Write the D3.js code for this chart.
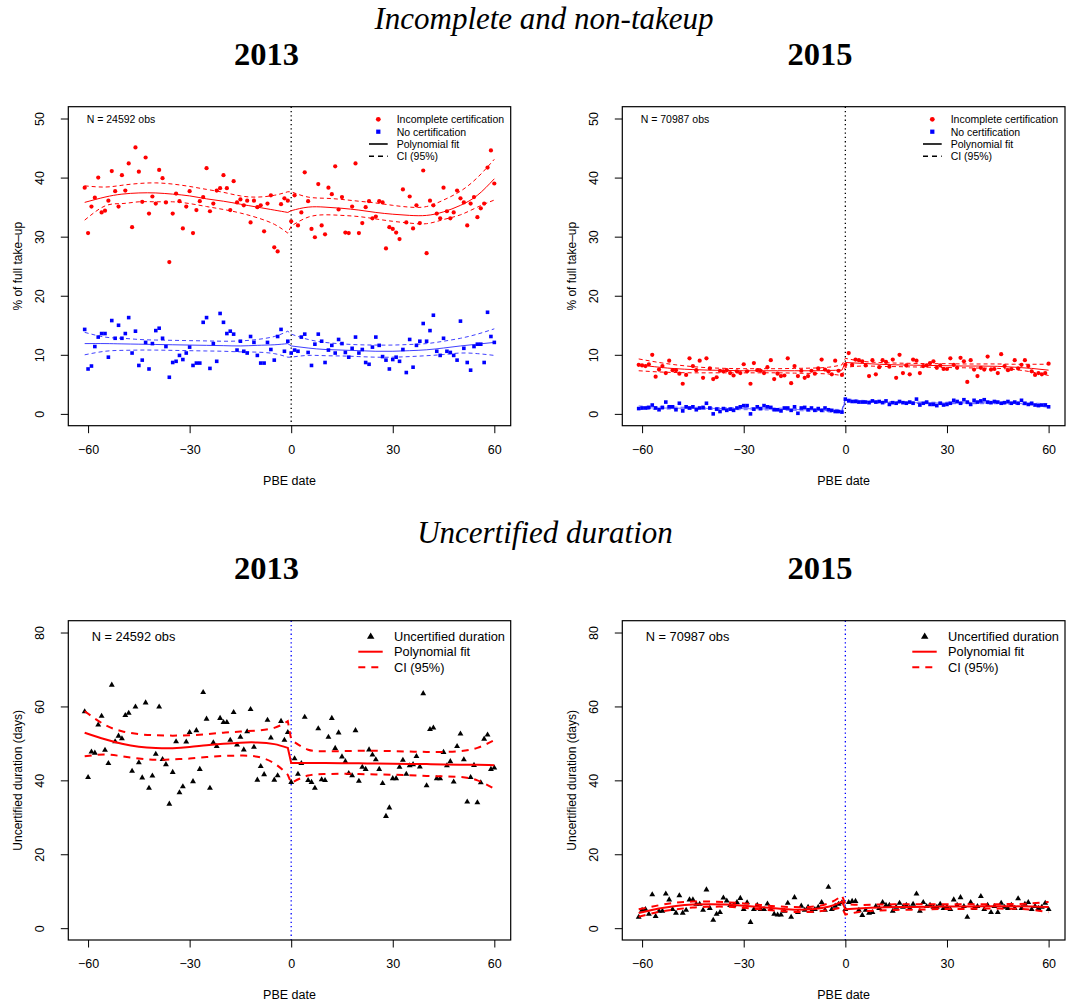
<!DOCTYPE html>
<html>
<head>
<meta charset="utf-8">
<script src="https://cdn.jsdelivr.net/npm/d3@7"></script>
<style>
  body { margin: 0; background: #fff; }
  svg { display: block; }
</style>
</head>
<body>
<svg id="fig" width="1067" height="1005"></svg>
<script>
// Daily bins around the PBE date (days -61 … 60)
const binDays = d3.range(-61, 61);

// Share of full take-up (%), 2013 cohort
const incomplete2013 = [
  38.3, 30.6, 35.1, 36.6, 40.0, 34.1, 34.4, 36.1, 41.1, 37.7,
  35.1, 40.4, 37.8, 42.4, 31.6, 45.1, 41.0, 35.9, 43.4, 33.9,
  36.8, 35.6, 41.3, 39.9, 35.8, 25.7, 33.9, 37.3, 36.0, 31.4,
  35.1, 37.7, 30.6, 34.5, 36.0, 36.7, 41.6, 34.3, 35.6, 37.8,
  38.2, 40.4, 38.2, 34.5, 39.4, 35.8, 36.3, 35.3, 36.1, 32.4,
  36.1, 35.0, 35.3, 30.9, 35.6, 37.0, 28.2, 27.5, 35.5, 36.5,
  36.1,
  32.6, 37.0, 31.9, 34.1, 40.9, 36.0, 31.3, 29.9, 38.9, 31.9,
  30.4, 38.3, 37.2, 41.9, 34.6, 36.7, 30.7, 30.6, 35.1, 42.4,
  30.6, 32.3, 35.0, 36.0, 33.1, 33.4, 36.0, 35.8, 28.0, 31.6,
  31.3, 30.7, 29.6, 38.0, 32.4, 36.8, 31.4, 35.3, 32.3, 41.2,
  27.2, 36.1, 35.3, 33.9, 33.1, 38.3, 34.3, 33.1, 34.1, 37.8,
  36.5, 35.8, 31.9, 35.6, 36.7, 33.3, 34.8, 35.6, 41.7, 44.6,
  39.0
];
const noCert2013 = [
  14.3, 7.6, 8.1, 11.4, 13.0, 13.6, 13.6, 9.6, 15.8, 12.8,
  15.0, 12.8, 13.6, 16.3, 10.3, 14.0, 8.2, 9.1, 12.1, 7.6,
  11.9, 14.1, 14.5, 12.8, 11.4, 6.2, 8.7, 8.9, 9.9, 9.2,
  10.3, 11.3, 8.2, 8.6, 8.6, 15.5, 16.3, 7.7, 11.9, 8.9,
  17.0, 15.5, 13.6, 14.0, 13.5, 10.8, 12.3, 10.6, 10.3, 13.1,
  12.1, 9.9, 8.6, 8.6, 12.1, 10.9, 9.1, 13.1, 14.3, 10.6,
  12.3,
  10.3, 10.8, 10.6, 13.0, 13.5, 10.4, 8.2, 11.8, 13.5, 12.3,
  8.7, 10.8, 11.6, 10.3, 12.6, 11.9, 10.4, 9.6, 11.1, 13.0,
  10.3, 10.9, 8.7, 8.4, 11.3, 13.0, 11.6, 9.7, 9.1, 7.6,
  9.2, 9.6, 8.9, 10.9, 7.0, 12.6, 7.9, 11.6, 12.3, 15.3,
  12.3, 14.1, 16.7, 10.6, 9.9, 12.8, 10.6, 10.4, 9.9, 9.1,
  15.7, 11.1, 8.7, 7.4, 11.4, 11.8, 11.8, 8.7, 17.2, 13.1,
  12.1
];

// Share of full take-up (%), 2015 cohort
const incomplete2015 = [
  8.3, 8.2, 8.1, 8.4, 10.0, 6.3, 7.5, 8.1, 6.9, 9.0,
  7.4, 7.4, 6.8, 5.1, 6.6, 9.4, 8.1, 7.4, 9.0, 6.1,
  9.4, 7.7, 5.9, 6.2, 7.3, 7.2, 7.4, 6.9, 6.5, 7.2,
  6.9, 8.4, 7.2, 5.1, 8.6, 7.4, 7.3, 6.9, 7.9, 9.1,
  5.9, 6.8, 6.4, 6.5, 9.4, 5.2, 8.1, 6.4, 7.3, 6.1,
  6.4, 7.3, 6.8, 7.7, 9.2, 7.5, 7.2, 6.7, 9.0, 7.3,
  6.6,
  8.3, 10.3, 8.3, 9.2, 9.1, 8.9, 8.2, 6.4, 9.1, 6.7,
  7.9, 9.1, 8.8, 8.0, 9.2, 6.1, 10.0, 6.9, 8.2, 6.7,
  9.2, 9.0, 6.9, 8.1, 8.2, 8.6, 8.9, 7.8, 8.2, 7.6,
  7.6, 9.4, 8.3, 7.8, 9.5, 8.9, 5.4, 9.1, 7.5, 6.4,
  7.8, 7.5, 9.7, 7.5, 7.6, 6.9, 10.1, 8.1, 7.4, 7.6,
  9.1, 7.7, 8.3, 9.1, 8.1, 7.2, 6.6, 6.9, 6.7, 6.9,
  8.5
];
const noCert2015 = [
  0.9, 1.0, 1.0, 1.1, 1.5, 1.0, 0.7, 1.1, 2.0, 1.2,
  1.2, 0.7, 1.8, 0.5, 1.2, 1.0, 1.2, 0.7, 1.0, 1.1,
  1.8, 1.0, 0.0, 0.8, 0.4, 0.9, 0.6, 0.8, 0.6, 1.0,
  1.2, 1.4, 1.4, 0.0, 0.8, 1.2, 0.9, 1.4, 1.2, 1.1,
  0.7, 0.7, 0.5, 1.0, 1.0, 0.6, 1.2, 0.1, 1.0, 1.1,
  0.7, 1.0, 0.6, 0.9, 0.6, 1.0, 0.7, 0.6, 0.4, 0.4,
  0.3,
  2.5, 2.2, 2.1, 2.1, 2.0, 2.0, 2.0, 1.9, 2.2, 2.0,
  2.1, 1.9, 2.2, 1.6, 1.9, 1.8, 2.1, 1.9, 1.8, 2.0,
  1.8, 2.5, 1.5, 1.8, 2.0, 1.6, 1.6, 1.4, 1.8, 1.5,
  1.6, 1.8, 2.3, 2.1, 1.8, 2.4, 2.0, 1.6, 2.3, 2.0,
  2.2, 2.4, 2.0, 1.9, 2.1, 2.0, 1.8, 1.9, 2.1, 1.8,
  2.0, 1.8, 2.3, 1.8, 1.6, 1.8, 1.5, 1.4, 1.5, 1.5,
  1.2
];

// Uncertified duration (days)
const duration2013 = [
  58.6, 40.8, 47.7, 47.4, 55.0, 57.4, 48.2, 44.6, 65.8, 50.5,
  52.0, 51.3, 57.6, 58.2, 42.5, 59.9, 44.8, 40.7, 61.0, 37.9,
  41.2, 47.1, 59.9, 45.7, 44.3, 33.6, 42.2, 50.5, 36.7, 38.3,
  50.4, 53.0, 39.7, 53.5, 43.0, 63.8, 56.6, 37.9, 50.2, 49.2,
  56.8, 55.7, 55.7, 50.9, 58.4, 49.6, 51.7, 48.3, 53.2, 59.2,
  49.0, 40.1, 43.8, 41.6, 56.3, 51.5, 40.1, 41.3, 56.0, 50.9,
  53.0,
  39.5, 45.9, 41.7, 44.6, 57.1, 40.0, 39.5, 37.9, 54.0, 40.2,
  40.0, 51.7, 56.8, 48.7, 52.9, 46.4, 45.1, 41.9, 41.3, 53.5,
  39.8, 43.6, 43.0, 48.3, 46.9, 45.6, 43.0, 39.2, 30.3, 32.6,
  40.5, 40.5, 43.6, 45.5, 41.7, 44.0, 44.3, 46.5, 43.7, 63.5,
  38.6, 53.8, 54.2, 40.5, 40.5, 47.6, 44.0, 45.1, 39.6, 49.2,
  52.6, 45.6, 34.2, 40.8, 44.1, 34.0, 39.4, 51.2, 52.3, 43.0,
  43.4
];
const duration2015 = [
  3.0, 4.9, 5.1, 3.8, 9.1, 3.2, 4.6, 4.6, 9.3, 7.7,
  5.1, 4.1, 8.8, 4.1, 4.9, 7.7, 7.7, 6.5, 6.5, 4.9,
  10.4, 5.4, 2.2, 3.8, 4.3, 8.2, 7.4, 6.2, 6.2, 7.0,
  8.1, 5.1, 6.9, 1.6, 5.1, 6.2, 5.1, 5.1, 6.6, 5.1,
  3.8, 3.6, 3.6, 4.6, 6.8, 3.0, 8.3, 4.3, 6.0, 4.9,
  5.7, 4.6, 5.1, 5.7, 7.0, 4.9, 11.1, 5.1, 6.0, 6.5,
  6.9,
  5.1, 7.0, 7.3, 7.3, 4.9, 3.5, 4.9, 4.1, 4.3, 5.9,
  5.4, 7.0, 6.2, 6.2, 4.6, 5.7, 6.8, 5.7, 6.2, 5.4,
  6.5, 9.3, 4.6, 7.0, 5.9, 6.2, 5.7, 5.7, 6.5, 5.4,
  5.7, 5.1, 7.7, 6.2, 8.3, 5.9, 3.0, 7.0, 5.4, 5.9,
  8.6, 5.1, 6.2, 4.3, 5.9, 4.3, 6.8, 5.7, 5.4, 6.2,
  5.4, 8.0, 5.4, 6.5, 7.0, 5.1, 5.9, 5.4, 5.7, 6.8,
  5.1
];

// Polynomial fits and 95% bands, evaluated on these days (left side, then right side)
const fitDays = [-61, -55, -50, -45, -40, -35, -30, -25, -20, -15, -10, -5, -1,
                 0, 5, 10, 15, 20, 25, 30, 35, 40, 45, 50, 55, 60];

const incFit2013 = [35.8, 36.7, 37.2, 37.4, 37.4, 37.2, 36.9, 36.4, 36.0, 35.5, 35.0, 34.5, 34.1,
                    34.4, 35.0, 35.0, 34.8, 34.5, 34.1, 33.8, 33.6, 33.6, 34.2, 35.3, 37.0, 39.8];
const incHi2013  = [38.6, 38.4, 38.7, 39.0, 39.1, 38.9, 38.5, 38.0, 37.5, 36.9, 36.7, 37.0, 37.6,
                    37.6, 36.7, 36.5, 36.3, 36.0, 35.7, 35.3, 35.0, 35.1, 36.2, 37.7, 40.0, 43.1];
const incLo2013  = [32.8, 35.2, 35.6, 35.9, 35.9, 35.9, 35.6, 35.1, 34.6, 34.0, 33.2, 32.1, 30.6,
                    31.8, 33.3, 33.7, 33.6, 33.4, 33.0, 32.6, 32.3, 32.2, 32.9, 33.7, 35.0, 36.2];
const nocFit2013 = [11.9, 11.9, 11.85, 11.8, 11.75, 11.7, 11.65, 11.6, 11.55, 11.5, 11.6, 11.7, 11.9,
                    11.5, 11.15, 10.9, 10.8, 10.7, 10.6, 10.6, 10.7, 10.85, 11.15, 11.5, 11.8, 12.1];
const nocHi2013  = [13.8, 13.0, 12.8, 12.6, 12.5, 12.45, 12.4, 12.35, 12.3, 12.35, 12.6, 13.1, 14.0,
                    13.5, 12.6, 12.1, 11.85, 11.7, 11.65, 11.65, 11.75, 11.9, 12.3, 12.8, 13.5, 14.4];
const nocLo2013  = [10.0, 10.6, 10.75, 10.8, 10.8, 10.75, 10.7, 10.65, 10.6, 10.5, 10.45, 10.2, 9.6,
                    9.6, 9.9, 9.85, 9.8, 9.7, 9.6, 9.6, 9.7, 9.85, 10.05, 10.3, 10.2, 9.9];

const incFit2015 = [8.3, 7.9, 7.65, 7.5, 7.4, 7.35, 7.3, 7.3, 7.3, 7.3, 7.3, 7.35, 7.4,
                    8.7, 8.55, 8.4, 8.3, 8.25, 8.2, 8.15, 8.1, 8.1, 8.05, 7.9, 7.7, 7.4];
const incHi2015  = [9.3, 8.7, 8.3, 8.0, 7.8, 7.7, 7.65, 7.65, 7.65, 7.7, 7.75, 7.9, 8.3,
                    9.4, 8.9, 8.7, 8.6, 8.55, 8.5, 8.5, 8.45, 8.45, 8.45, 8.4, 8.4, 8.4];
const incLo2015  = [7.3, 7.1, 7.0, 6.95, 6.95, 6.95, 6.95, 6.95, 6.95, 6.9, 6.85, 6.75, 6.5,
                    7.9, 8.1, 8.05, 8.0, 7.95, 7.9, 7.85, 7.8, 7.75, 7.7, 7.5, 7.1, 6.5];
const nocFit2015 = [1.05, 1.0, 0.97, 0.95, 0.93, 0.9, 0.88, 0.85, 0.8, 0.75, 0.65, 0.55, 0.45,
                    2.35, 2.15, 2.0, 1.95, 1.9, 1.85, 1.85, 1.85, 1.85, 1.85, 1.8, 1.65, 1.4];
const nocHi2015  = [1.35, 1.2, 1.15, 1.12, 1.1, 1.07, 1.05, 1.02, 0.98, 0.93, 0.85, 0.78, 0.75,
                    2.6, 2.3, 2.15, 2.08, 2.03, 1.98, 1.98, 1.98, 1.98, 1.99, 1.97, 1.85, 1.7];
const nocLo2015  = [0.75, 0.8, 0.8, 0.78, 0.76, 0.73, 0.71, 0.68, 0.62, 0.57, 0.45, 0.32, 0.15,
                    2.1, 2.0, 1.85, 1.82, 1.77, 1.72, 1.72, 1.72, 1.72, 1.71, 1.63, 1.45, 1.1];

const durFit2013 = [52.9, 51.1, 49.9, 49.1, 48.75, 48.7, 49.0, 49.5, 49.9, 50.2, 50.25, 49.8, 48.8,
                    44.7, 44.7, 44.7, 44.65, 44.6, 44.55, 44.5, 44.45, 44.4, 44.3, 44.25, 44.2, 44.1];
const durHi2013  = [58.7, 55.0, 53.3, 52.5, 52.2, 52.1, 52.2, 52.5, 52.9, 53.2, 53.5, 54.2, 56.0,
                    51.0, 48.3, 47.9, 47.9, 48.0, 48.0, 47.9, 47.8, 47.7, 47.7, 47.9, 48.8, 50.9];
const durLo2013  = [46.5, 47.0, 46.5, 45.9, 45.6, 45.7, 45.9, 46.3, 46.6, 46.7, 46.4, 44.6, 41.5,
                    39.3, 41.3, 41.7, 41.8, 41.7, 41.6, 41.5, 41.4, 41.2, 41.1, 40.9, 40.0, 37.7];
const durFit2015 = [4.1, 5.3, 6.0, 6.4, 6.5, 6.4, 6.1, 5.7, 5.3, 5.0, 5.1, 5.8, 7.2,
                    5.1, 5.4, 5.6, 5.7, 5.75, 5.8, 5.85, 5.85, 5.9, 5.9, 5.9, 5.85, 5.7];
const durHi2015  = [5.1, 6.2, 6.9, 7.2, 7.2, 7.0, 6.7, 6.3, 5.9, 5.7, 5.8, 6.7, 8.8,
                    6.5, 6.3, 6.4, 6.45, 6.5, 6.5, 6.5, 6.5, 6.5, 6.5, 6.55, 6.7, 7.1];
const durLo2015  = [3.1, 4.4, 5.1, 5.6, 5.8, 5.8, 5.5, 5.1, 4.7, 4.4, 4.4, 4.9, 5.6,
                    3.7, 4.5, 4.8, 4.95, 5.0, 5.1, 5.2, 5.2, 5.3, 5.3, 5.25, 5.0, 4.3];

// Axis ticks and labels
const xTicks = [-60, -30, 0, 30, 60];
const shareTicks = [0, 10, 20, 30, 40, 50];
const durationTicks = [0, 20, 40, 60, 80];
const obsCounts = { 2013: "24592", 2015: "70987" };

const SANS = '"Liberation Sans", Arial, Helvetica, sans-serif';
const SERIF = '"Liberation Serif", "DejaVu Serif", serif';
const RED = "#ff0000", BLUE = "#0000ff";

const svg = d3.select("#fig");
svg.append("rect").attr("width", 1067).attr("height", 1005).attr("fill", "#fff");

// Section and year headings
function heading(txt, x, y, size, italic, bold) {
  svg.append("text").attr("x", x).attr("y", y)
    .attr("text-anchor", "middle").attr("dominant-baseline", "central")
    .attr("font-family", SERIF).attr("font-size", size)
    .attr("font-style", italic ? "italic" : "normal")
    .attr("font-weight", bold ? "bold" : "normal")
    .text(txt);
}
heading("Incomplete and non-takeup", 544, 18, 31, true, false);
heading("2013", 266.5, 54, 32.5, false, true);
heading("2015", 820, 54, 32.5, false, true);
heading("Uncertified duration", 545, 532, 31, true, false);
heading("2013", 266.5, 568, 32.5, false, true);
heading("2015", 820, 568, 32.5, false, true);

const minusFmt = d => (d < 0 ? "\u2212" + Math.abs(d) : String(d));

function drawPanel(cfg) {
  const x = d3.scaleLinear().domain([-65.84, 64.84]).range([cfg.x0, cfg.x1]);
  const y = d3.scaleLinear().domain(cfg.yDomain).range([cfg.y1, cfg.y0]);
  const g = svg.append("g");

  // x axis
  g.append("g").attr("transform", `translate(0,${cfg.y1})`)
    .call(d3.axisBottom(x).tickValues(xTicks).tickSize(7.5).tickPadding(12).tickFormat(minusFmt))
    .call(a => a.select(".domain").remove())
    .attr("font-family", SANS).attr("font-size", 12.5)
    .call(a => a.selectAll("line").attr("stroke", "#000"))
    .call(a => a.selectAll("text").attr("fill", "#000"));

  // y axis, labels parallel to the axis
  g.append("g").attr("transform", `translate(${cfg.x0},0)`)
    .call(d3.axisLeft(y).tickValues(cfg.yTicks).tickSize(7.5))
    .call(a => a.select(".domain").remove())
    .attr("font-family", SANS).attr("font-size", 12.5)
    .call(a => a.selectAll("line").attr("stroke", "#000"))
    .call(a => a.selectAll("text").attr("fill", "#000")
      .attr("x", 0).attr("dy", "0.36em").attr("text-anchor", "middle")
      .attr("transform", "translate(-29,0) rotate(-90)"));

  // axis titles
  g.append("text").attr("x", (cfg.x0 + cfg.x1) / 2).attr("y", cfg.y1 + 55)
    .attr("text-anchor", "middle").attr("dominant-baseline", "central")
    .attr("font-family", SANS).attr("font-size", 12.5).text("PBE date");
  g.append("text")
    .attr("transform", `translate(${cfg.x0 - 51},${(cfg.y0 + cfg.y1) / 2}) rotate(-90)`)
    .attr("text-anchor", "middle").attr("dy", "0.36em")
    .attr("font-family", SANS).attr("font-size", 12).text(cfg.yTitle);

  // cutoff
  g.append("line").attr("x1", x(0)).attr("x2", x(0)).attr("y1", cfg.y0).attr("y2", cfg.y1)
    .attr("stroke", cfg.cutColor).attr("stroke-width", 1.3).attr("stroke-dasharray", "1.3,3");

  // binned means
  cfg.series.forEach(s => {
    const sym = d3.symbol().type(s.shape).size(s.size);
    g.append("g").selectAll("path").data(s.values).join("path")
      .attr("transform", (v, i) => `translate(${x(binDays[i])},${y(v)})`)
      .attr("d", sym).attr("fill", s.color);
  });

  // fitted polynomial and bands, one piece per side of the cutoff joined at the jump
  const lineGen = d3.line().curve(d3.curveNatural);
  function fitPath(vals) {
    const pts = fitDays.map((d, i) => [x(d), y(vals[i])]);
    const left = pts.filter((p, i) => fitDays[i] < 0);
    const right = pts.filter((p, i) => fitDays[i] >= 0);
    return lineGen(left) + lineGen(right).replace(/^M/, "L");
  }
  cfg.fits.forEach(f => {
    g.append("path").attr("d", fitPath(f.fit)).attr("fill", "none")
      .attr("stroke", f.color).attr("stroke-width", cfg.lw).attr("stroke-opacity", f.opacity || 1);
    [f.lo, f.hi].forEach(b => {
      g.append("path").attr("d", fitPath(b)).attr("fill", "none")
        .attr("stroke", f.color).attr("stroke-width", cfg.lw)
        .attr("stroke-opacity", f.opacity || 1)
        .attr("stroke-dasharray", cfg.dash);
    });
  });

  // frame
  g.append("rect").attr("x", cfg.x0).attr("y", cfg.y0)
    .attr("width", cfg.x1 - cfg.x0).attr("height", cfg.y1 - cfg.y0)
    .attr("fill", "none").attr("stroke", "#000").attr("stroke-width", 1.2);

  // sample size note
  g.append("text").attr("x", cfg.x0 + cfg.nDx).attr("y", cfg.y0 + cfg.nDy)
    .attr("dominant-baseline", "central").attr("font-family", SANS)
    .attr("font-size", cfg.legendFont).text(`N = ${obsCounts[cfg.year]} obs`);

  // legend
  const lg = g.append("g").attr("transform", `translate(${cfg.x0},${cfg.y0})`);
  cfg.legend.forEach((item, i) => {
    const ly = cfg.legendRows[i];
    if (item.shape) {
      lg.append("path").attr("transform", `translate(${cfg.legSymX},${ly})`)
        .attr("d", d3.symbol().type(item.shape).size(item.size)).attr("fill", item.color);
    } else {
      lg.append("line").attr("x1", cfg.legLineX[0]).attr("x2", cfg.legLineX[1])
        .attr("y1", ly).attr("y2", ly).attr("stroke", item.color)
        .attr("stroke-width", item.width).attr("stroke-dasharray", item.dash || null);
    }
    lg.append("text").attr("x", cfg.legTextX).attr("y", ly)
      .attr("dominant-baseline", "central").attr("font-family", SANS)
      .attr("font-size", cfg.legendFont).text(item.label);
  });
}

const topRow = { y0: 106.7, y1: 425.7 };
const bottomRow = { y0: 620.7, y1: 940 };
const leftCol = { x0: 68.3, x1: 510.7 };
const rightCol = { x0: 622.3, x1: 1065 };

const topLegend = [
  { shape: d3.symbolCircle, size: 18, color: RED, label: "Incomplete certification" },
  { shape: d3.symbolSquare, size: 18, color: BLUE, label: "No certification" },
  { color: "#000", width: 1.6, label: "Polynomial fit" },
  { color: "#000", width: 1.6, dash: "5,4", label: "CI (95%)" }
];
const bottomLegend = [
  { shape: d3.symbolTriangle, size: 24, color: "#000", label: "Uncertified duration" },
  { color: RED, width: 2, label: "Polynomial fit" },
  { color: RED, width: 2, dash: "7,6", label: "CI (95%)" }
];

const topCommon = {
  yDomain: [-2, 52], yTicks: shareTicks, yTitle: "% of full take\u2013up", cutColor: "#000",
  lw: 1, dash: "4,3", legendFont: 10.5, nDx: 18.4, nDy: 12.6,
  legend: topLegend, legendRows: [12.6, 25, 37.3, 49.6],
  legSymX: 310, legLineX: [300.7, 319.4], legTextX: 328.4
};
const bottomCommon = {
  yDomain: [-3.2, 83.2], yTicks: durationTicks, yTitle: "Uncertified duration (days)", cutColor: BLUE,
  lw: 2, dash: "7,6", legendFont: 12.8, nDx: 23.4, nDy: 16,
  legend: bottomLegend, legendRows: [16, 31, 46.6],
  legSymX: 302.4, legLineX: [290, 314.4], legTextX: 325.7
};

drawPanel(Object.assign({}, topCommon, leftCol, topRow, {
  year: 2013,
  series: [
    { values: incomplete2013, shape: d3.symbolCircle, size: 14, color: RED },
    { values: noCert2013, shape: d3.symbolSquare, size: 13, color: BLUE }
  ],
  fits: [
    { fit: incFit2013, lo: incLo2013, hi: incHi2013, color: RED },
    { fit: nocFit2013, lo: nocLo2013, hi: nocHi2013, color: BLUE, opacity: 0.75 }
  ]
}));
drawPanel(Object.assign({}, topCommon, rightCol, topRow, {
  year: 2015,
  series: [
    { values: incomplete2015, shape: d3.symbolCircle, size: 14, color: RED },
    { values: noCert2015, shape: d3.symbolSquare, size: 13, color: BLUE }
  ],
  fits: [
    { fit: incFit2015, lo: incLo2015, hi: incHi2015, color: RED },
    { fit: nocFit2015, lo: nocLo2015, hi: nocHi2015, color: BLUE, opacity: 0.55 }
  ]
}));
drawPanel(Object.assign({}, bottomCommon, leftCol, bottomRow, {
  year: 2013,
  series: [{ values: duration2013, shape: d3.symbolTriangle, size: 15, color: "#000" }],
  fits: [{ fit: durFit2013, lo: durLo2013, hi: durHi2013, color: RED }]
}));
drawPanel(Object.assign({}, bottomCommon, rightCol, bottomRow, {
  year: 2015,
  series: [{ values: duration2015, shape: d3.symbolTriangle, size: 15, color: "#000" }],
  fits: [{ fit: durFit2015, lo: durLo2015, hi: durHi2015, color: RED }]
}));
</script>
</body>
</html>
